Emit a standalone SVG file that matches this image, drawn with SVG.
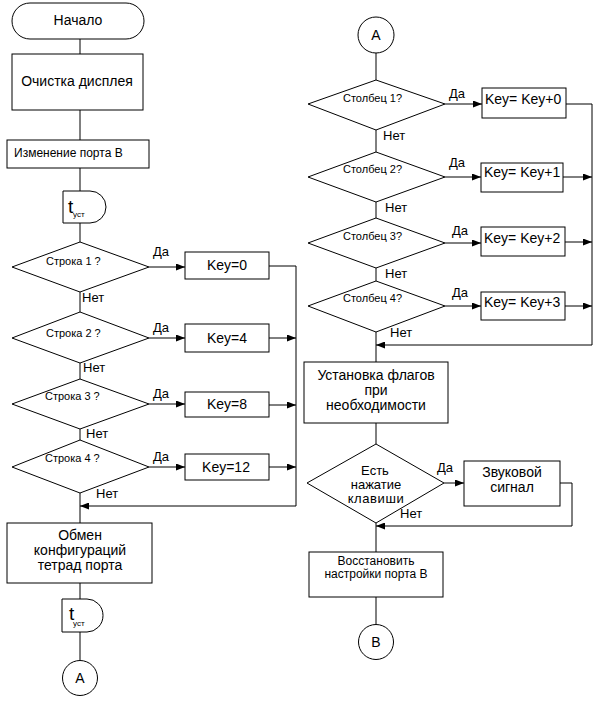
<svg xmlns="http://www.w3.org/2000/svg" width="598" height="702" viewBox="0 0 598 702">
<style>
.s{fill:#fff;stroke:#000;stroke-width:1}
.c{fill:none;stroke:#000;stroke-width:1}
text{font-family:"Liberation Sans",Arial,sans-serif;fill:#000}
.t14{font-size:14px}
.t13{font-size:13px}
.t12{font-size:12px}
.t11{font-size:11px}
.m{text-anchor:middle}
</style>
<defs>
<marker id="ah" markerUnits="userSpaceOnUse" markerWidth="9" markerHeight="7" refX="9" refY="3.5" orient="auto">
<path d="M0,0 L9,3.5 L0,7 z" fill="#000"/>
</marker>
</defs>
<rect width="598" height="702" fill="#fff"/>

<g id="connectors">
<path class="c" d="M80,39V54M80,110V140M80,168V191M80,223V242M80,292V312M80,363V379M80,429V440M80,493V523M80,583V599M80,632V660"/>
<path class="c" d="M149,267H185" marker-end="url(#ah)"/>
<path class="c" d="M149,338H185" marker-end="url(#ah)"/>
<path class="c" d="M149,404H185" marker-end="url(#ah)"/>
<path class="c" d="M149,467H185" marker-end="url(#ah)"/>
<path class="c" d="M269,266H296V506"/>
<path class="c" d="M269,338H296" marker-end="url(#ah)"/>
<path class="c" d="M269,405H296" marker-end="url(#ah)"/>
<path class="c" d="M269,467H296" marker-end="url(#ah)"/>
<path class="c" d="M296,506H80" marker-end="url(#ah)"/>

<path class="c" d="M376,53V80M376,130V152M376,202V218M376,268V281M376,332V362M376,423V444M376,523V552M376,597V624"/>
<path class="c" d="M445,104H482" marker-end="url(#ah)"/>
<path class="c" d="M445,177H481" marker-end="url(#ah)"/>
<path class="c" d="M445,243H481" marker-end="url(#ah)"/>
<path class="c" d="M445,306H481" marker-end="url(#ah)"/>
<path class="c" d="M566,104H592V345"/>
<path class="c" d="M563,177H592" marker-end="url(#ah)"/>
<path class="c" d="M565,242H592" marker-end="url(#ah)"/>
<path class="c" d="M565,306H592" marker-end="url(#ah)"/>
<path class="c" d="M592,345H376" marker-end="url(#ah)"/>
<path class="c" d="M444,483H464" marker-end="url(#ah)"/>
<path class="c" d="M560,483H572V526H376" marker-end="url(#ah)"/>
</g>

<g id="n_start">
<rect class="s" x="12" y="3" width="132" height="36" rx="18" ry="18"/>
<text class="t14 m" x="78" y="25">Начало</text>
</g>
<g id="n_clear">
<rect class="s" x="12" y="54" width="131" height="56"/>
<text class="t14 m" x="77" y="86">Очистка дисплея</text>
</g>
<g id="n_portb">
<rect class="s" x="7" y="140" width="142" height="28"/>
<text class="t12" x="14" y="157">Изменение порта В</text>
</g>
<g id="n_delay1">
<path class="s" d="M63,191H90A16,16 0 0 1 90,223H63Z"/>
<text x="68" y="213" style="font-size:19px">t</text>
<text x="73" y="217" style="font-size:8px">уст</text>
</g>

<g id="n_row1">
<path class="s" d="M80,242L149,267L80,292L12,267Z"/>
<text class="t11" x="46" y="265">Строка 1 ?</text>
</g>
<g id="n_row2">
<path class="s" d="M80,312L149,338L80,363L12,338Z"/>
<text class="t11" x="46" y="337">Строка 2 ?</text>
</g>
<g id="n_row3">
<path class="s" d="M80,379L149,404L80,429L12,404Z"/>
<text class="t11" x="45" y="400">Строка 3 ?</text>
</g>
<g id="n_row4">
<path class="s" d="M80,440L149,467L80,493L12,467Z"/>
<text class="t11" x="45" y="462">Строка 4 ?</text>
</g>

<g id="n_key0"><rect class="s" x="185" y="252" width="84" height="27"/><text class="t14 m" x="227" y="270">Key=0</text></g>
<g id="n_key4"><rect class="s" x="185" y="324" width="84" height="28"/><text class="t14 m" x="227" y="343">Key=4</text></g>
<g id="n_key8"><rect class="s" x="185" y="392" width="84" height="25"/><text class="t14 m" x="227" y="409">Key=8</text></g>
<g id="n_key12"><rect class="s" x="185" y="454" width="84" height="26"/><text class="t14 m" x="226" y="472">Key=12</text></g>

<g id="labels_left">
<text class="t13" x="153" y="256">Да</text>
<text class="t13" x="153" y="332">Да</text>
<text class="t13" x="153" y="398">Да</text>
<text class="t13" x="153" y="461">Да</text>
<text class="t13" x="82" y="302">Нет</text>
<text class="t13" x="83" y="372">Нет</text>
<text class="t13" x="86" y="438">Нет</text>
<text class="t13" x="96" y="498">Нет</text>
</g>

<g id="n_swap">
<rect class="s" x="7" y="523" width="145" height="60"/>
<text class="t14 m" x="80" y="540">Обмен</text>
<text class="t14 m" x="80" y="555">конфигураций</text>
<text class="t14 m" x="80" y="570">тетрад порта</text>
</g>
<g id="n_delay2">
<path class="s" d="M62,599H87A16,16.5 0 0 1 87,632H62Z"/>
<text x="69" y="620" style="font-size:19px">t</text>
<text x="73" y="626" style="font-size:8px">уст</text>
</g>
<g id="n_A1">
<circle class="s" cx="80" cy="678" r="17.5"/>
<text class="t14 m" x="80" y="683">A</text>
</g>

<g id="n_A2">
<circle class="s" cx="376" cy="35" r="18"/>
<text class="t14 m" x="376" y="40">A</text>
</g>
<g id="n_col1"><path class="s" d="M376,80L445,104L376,130L308,104Z"/><text class="t11" x="343" y="102">Столбец 1?</text></g>
<g id="n_col2"><path class="s" d="M376,152L445,177L376,202L308,177Z"/><text class="t11" x="343" y="173">Столбец 2?</text></g>
<g id="n_col3"><path class="s" d="M376,218L445,243L376,268L308,243Z"/><text class="t11" x="343" y="240">Столбец 3?</text></g>
<g id="n_col4"><path class="s" d="M376,281L445,306L376,332L308,306Z"/><text class="t11" x="343" y="302">Столбец 4?</text></g>

<g id="n_k0"><rect class="s" x="482" y="88" width="84" height="30"/><text class="t14" x="485" y="104">Key= Key+0</text></g>
<g id="n_k1"><rect class="s" x="481" y="163" width="82" height="29"/><text class="t14" x="484" y="177">Key= Key+1</text></g>
<g id="n_k2"><rect class="s" x="481" y="227" width="84" height="29"/><text class="t14" x="484" y="243">Key= Key+2</text></g>
<g id="n_k3"><rect class="s" x="481" y="292" width="84" height="28"/><text class="t14" x="484" y="307">Key= Key+3</text></g>

<g id="labels_right">
<text class="t13" x="449" y="98">Да</text>
<text class="t13" x="449" y="167">Да</text>
<text class="t13" x="452" y="235">Да</text>
<text class="t13" x="452" y="297">Да</text>
<text class="t13" x="383" y="140">Нет</text>
<text class="t13" x="385" y="212">Нет</text>
<text class="t13" x="385" y="278">Нет</text>
<text class="t13" x="390" y="337">Нет</text>
<text class="t13" x="437" y="472">Да</text>
<text class="t13" x="400" y="518">Нет</text>
</g>

<g id="n_flags">
<rect class="s" x="304" y="362" width="144" height="61"/>
<text class="t14 m" x="376" y="380">Установка флагов</text>
<text class="t14 m" x="376" y="395">при</text>
<text class="t14 m" x="376" y="410">необходимости</text>
</g>
<g id="n_keypress">
<path class="s" d="M376,444L444,483L376,523L307,483Z"/>
<text class="t13 m" x="375" y="475">Есть</text>
<text class="t13 m" x="376" y="489">нажатие</text>
<text class="t13 m" x="376" y="503" style="letter-spacing:0.6px">клавиши</text>
</g>
<g id="n_sound">
<rect class="s" x="464" y="461" width="96" height="45"/>
<text class="t14 m" x="512" y="477">Звуковой</text>
<text class="t14 m" x="512" y="492">сигнал</text>
</g>
<g id="n_restore">
<rect class="s" x="309" y="552" width="134" height="45"/>
<text class="t12 m" x="376" y="565">Восстановить</text>
<text class="t12 m" x="376" y="578">настройки порта В</text>
</g>
<g id="n_B">
<circle class="s" cx="376" cy="642" r="17.5"/>
<text class="t14 m" x="376" y="647">B</text>
</g>
</svg>
